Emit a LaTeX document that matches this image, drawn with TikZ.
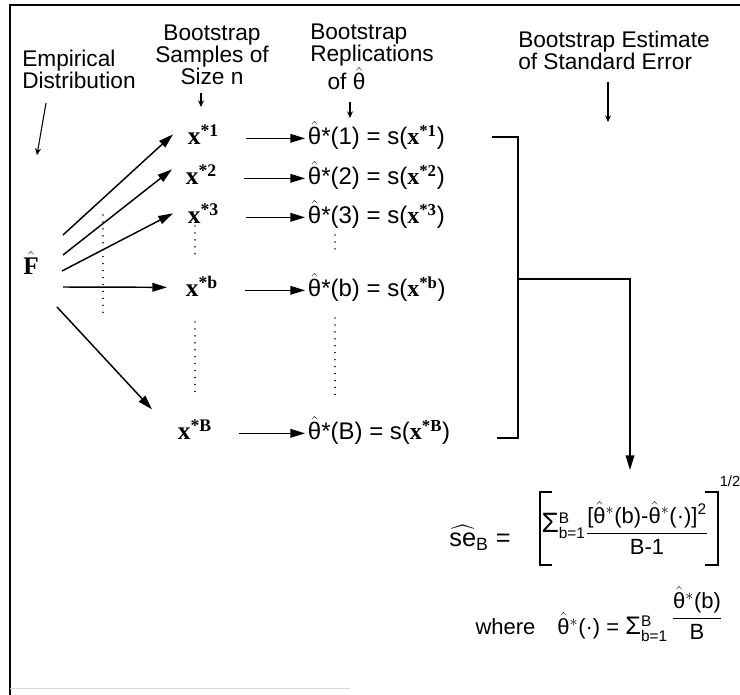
\documentclass[tikz,border=0pt]{standalone}
\usepackage{fontspec}
\usepackage{amsmath}
\setmainfont{Liberation Serif}
\setsansfont{Liberation Sans}
\usetikzlibrary{arrows.meta,calc}

\newcommand{\thh}{\ensuremath{\hat{\text{θ}}}}
\newcommand{\xst}[1]{{\rmfamily\bfseries x\textsuperscript{*#1}}}

\begin{document}
\begin{tikzpicture}[
  x=0.75pt, y=-0.75pt,
  every node/.style={font=\sffamily\fontsize{16.5}{15}\selectfont, inner sep=0pt},
  lbl/.style={font=\sffamily\fontsize{17}{16.5}\selectfont},
  samp/.style={font=\rmfamily\fontsize{19}{19}\selectfont, text height=14pt, text depth=4pt,
               inner sep=2pt, anchor=base west},
  repl/.style={font=\sffamily\fontsize{18}{18}\selectfont, text height=14pt, text depth=4pt,
               inner sep=2pt, anchor=base west},
  arr/.style={-{Triangle[length=11pt,width=6.5pt]}, line width=1.1pt},
  tick/.style={-{Stealth[length=5pt,width=4.5pt]}, line width=0.8pt},
  vdots/.style={line width=1.1pt, dash pattern=on 0.01pt off 5.2pt, line cap=round},
  frame/.style={line width=1.1pt},
]
\useasboundingbox (0,0) rectangle (740,695);

% frame
\draw[frame] (10,695) -- (10,5) -- (740,5);
\draw[gray!30] (10,688) -- (350,688);

% headings
\node[lbl, anchor=west, align=left] (emp) at (22,69) {Empirical\\Distribution};
\node[lbl, align=center] (samp) at (212,55) {Bootstrap\\Samples of\\Size n};
\node[lbl, align=left] (repl) at (372,57) {Bootstrap\\Replications\\\hspace*{13pt}of~\thh};
\node[lbl, anchor=west, align=left] (est) at (518,50) {Bootstrap Estimate\\of Standard Error};

\coordinate (empA) at (46,103);  \coordinate (empB) at (37,155);
\coordinate (sampA) at (201,93); \coordinate (sampB) at (201,107);
\coordinate (replA) at (350,102); \coordinate (replB) at (350,118);
\coordinate (estA) at (608,82);  \coordinate (estB) at (608,122);
\draw[tick] (empA) -- (empB);
\draw[tick] (sampA) -- (sampB);
\draw[tick] (replA) -- (replB);
\draw[tick] (estA) -- (estB);

% empirical distribution
\node[font=\rmfamily\bfseries\fontsize{19}{19}\selectfont] (F) at (31,263) {$\hat{\text{F}}$};

% bootstrap samples
\node[samp] (x1) at (185,145) {\xst{1}};
\node[samp] (x2) at (183,185) {\xst{2}};
\node[samp] (x3) at (185,224) {\xst{3}};
\node[samp] (xb) at (183,297) {\xst{b}};
\node[samp] (xB) at (175,440) {\xst{B}};

% replications
\node[repl] (t1) at (305,145) {\thh*(1) = s(\xst{1})};
\node[repl] (t2) at (305,185) {\thh*(2) = s(\xst{2})};
\node[repl] (t3) at (305,224) {\thh*(3) = s(\xst{3})};
\node[repl] (tb) at (305,297) {\thh*(b) = s(\xst{b})};
\node[repl] (tB) at (305,440) {\thh*(B) = s(\xst{B})};

\foreach \r in {1,2,3,b,B}
  \draw[arr, shorten <=18pt] (x\r) -- (t\r);

% sampling arrows
\coordinate (f1) at (63,235);
\coordinate (f2) at (63,255);
\coordinate (f3) at (62,271);
\coordinate (fb) at (63,287);
\coordinate (fB) at (57,307);
\draw[arr] (f1) -- ([shift={(-12,-4)}]x1.west);
\draw[arr] (f2) -- ([shift={(-11,-9)}]x2.west);
\draw[arr] (f3) -- ([shift={(-12,-4)}]x3.west);
\draw[arr] (fb) -- ([shift={(-16,-3)}]xb.west);
\draw[arr] (fB) -- ([shift={(-23,-9)}]xB.north west);

% dots
\draw[vdots] (103,215) -- (103,315);
\draw[vdots] (195,226) -- (195,254);
\draw[vdots] (195,322) -- (195,394);
\draw[vdots] (335,235) -- (335,255);
\draw[vdots] (335,318) -- (335,400);

% collecting bracket
\coordinate (brT) at (492,137); \coordinate (brTR) at (518,137);
\coordinate (brB) at (497,438); \coordinate (brBR) at (518,438);
\coordinate (brM) at (518,279); \coordinate (seTip) at (630,470);
\draw[frame] (brT) -- (brTR) -- (brBR) -- (brB);
\draw[arr] (brM) -| (seTip);

% standard error
\node[font=\sffamily\fontsize{19}{19}\selectfont] (seB) at (480,538) {$\widehat{\text{se}}_{\text{B}}$ =};
\node (sumB) at (625,528) {\raisebox{5pt}{{\fontsize{21}{21}\selectfont Σ}$^{\text{B}}_{\text{b=1}}$}$\dfrac{\text{[\thh$^*$(b)-\thh$^*$(·)]$^{\text{2}}$}}{\text{B-1}}$};
\draw[frame] (552,492) -- (540,492) -- (540,565) -- (552,565);
\draw[frame] (705,492) -- (718,492) -- (718,565) -- (705,565);
\node[font=\sffamily\fontsize{11}{11}\selectfont] (half) at (730,481) {1/2};
\node (where) at (599,614) {where\quad \thh$^*$(·) = {\fontsize{19}{19}\selectfont Σ}$^{\text{B}}_{\text{b=1}}$\,\raisebox{8pt}{$\dfrac{\text{\thh$^*$(b)}}{\text{B}}$}};

\end{tikzpicture}
\end{document}
